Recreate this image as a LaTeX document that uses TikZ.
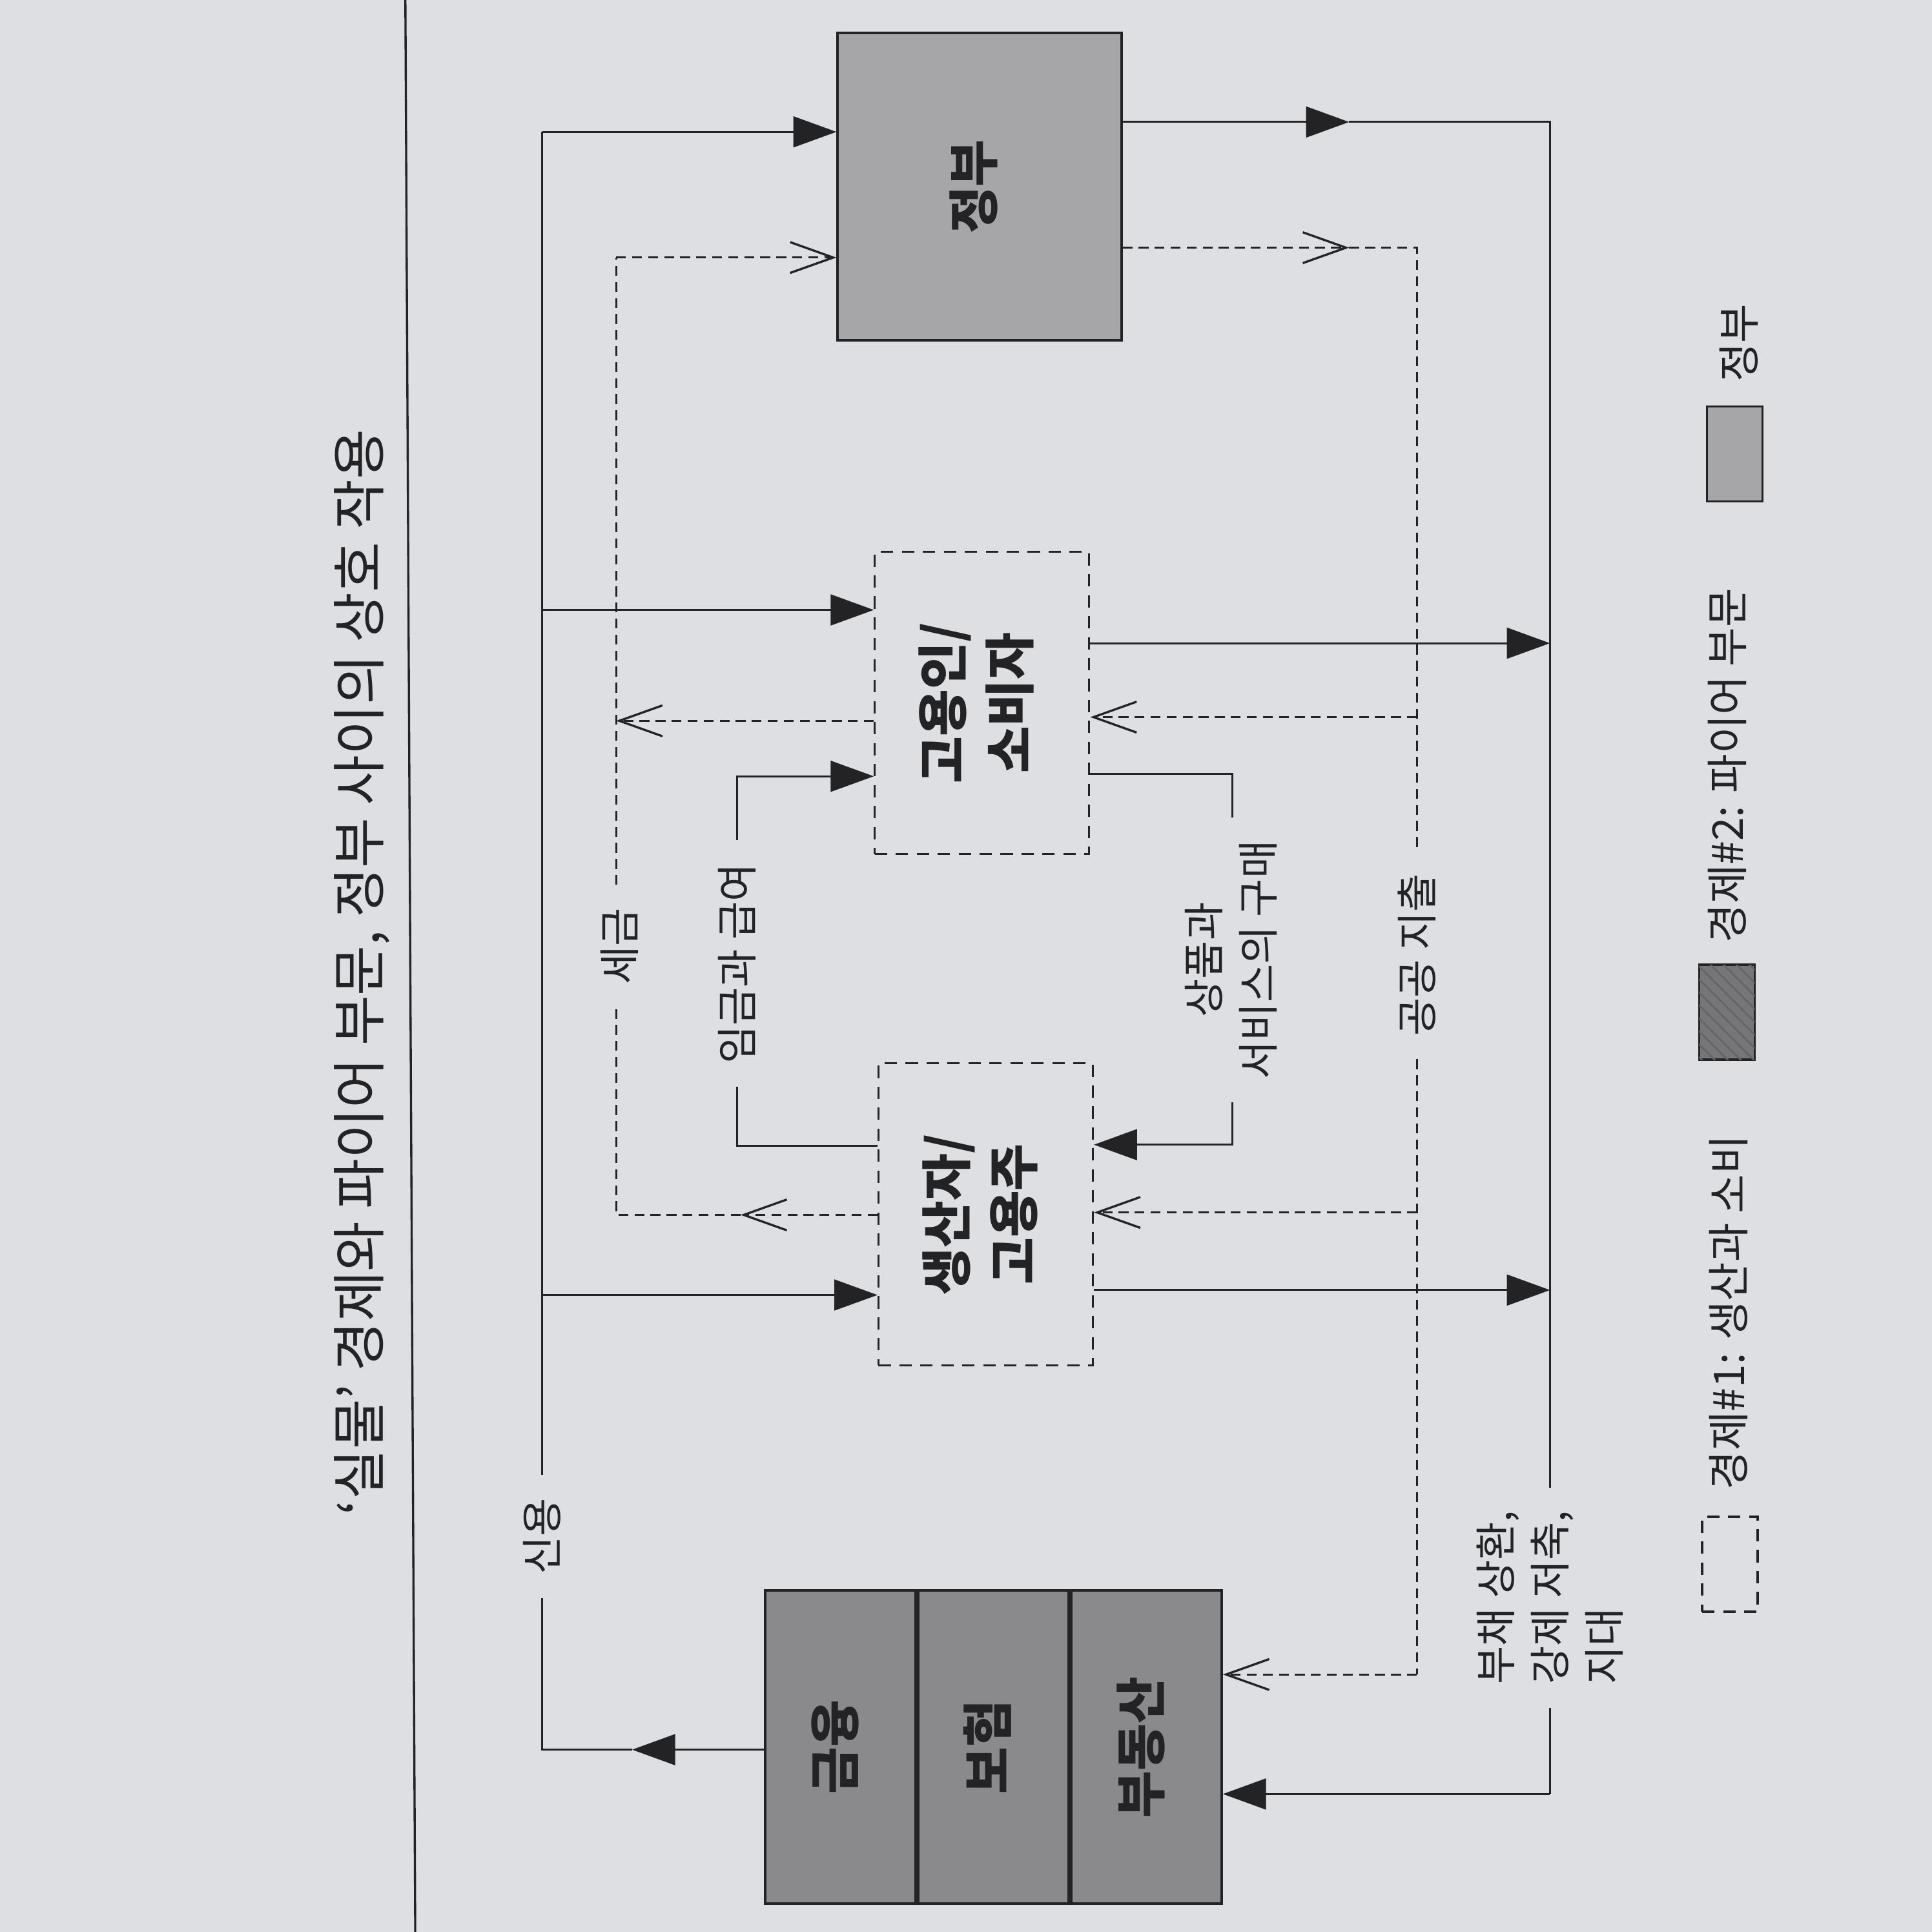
\documentclass[tikz,border=0pt]{standalone}
\usepackage{fontspec}
\setmainfont{Noto Sans CJK KR}
\usetikzlibrary{arrows.meta, positioning, patterns}

\definecolor{paper}{RGB}{222,223,226}
\definecolor{ink}{RGB}{35,35,38}
\definecolor{govgray}{RGB}{166,166,168}
\definecolor{firegray}{RGB}{138,138,140}
\definecolor{hatchgray}{RGB}{118,118,120}

% upright text turned a quarter turn, several lines centred
\newcommand{\vlab}[1]{\rotatebox{90}{\begin{tabular}{@{}c@{}}#1\end{tabular}}}

\begin{document}
\begin{tikzpicture}[
    x=0.01cm, y=-0.01cm,
    color=ink, line width=0.45pt,
    boxfont/.style={font=\bfseries\fontsize{11.8}{15.5}\selectfont},
    govbox/.style={draw, line width=0.6pt, fill=govgray, boxfont,
                   minimum width=2.30cm, minimum height=2.49cm, inner sep=0pt},
    firebox/.style={draw, line width=0.6pt, fill=firegray, boxfont,
                    minimum width=1.22cm, minimum height=2.54cm, inner sep=0pt},
    ecobox/.style={draw, dash pattern=on 1mm off 0.7mm, boxfont,
                   minimum width=1.74cm, minimum height=2.45cm, inner sep=0pt},
    swatch/.style={draw, line width=0.5pt, minimum width=0.45cm,
                   minimum height=0.77cm, inner sep=0pt},
    flow/.style={-{Triangle[length=3.5mm, width=2.5mm]}},
    publine/.style={dash pattern=on 0.8mm off 0.5mm},
    pubflow/.style={publine, -{Straight Barb[length=3.5mm, width=2.5mm, line width=0.5pt]}},
    flowlabel/.style={rotate=90, font=\fontsize{9.6}{12.5}\selectfont,
                      inner xsep=1.8mm, inner ysep=0pt},
    legendlabel/.style={rotate=90, anchor=west, inner sep=0pt,
                        font=\fontsize{9.8}{12}\selectfont},
]
\useasboundingbox (0,0) rectangle (1568,1568);
\fill[paper] (0,0) rectangle (1568,1568);

% page rule and title
\draw[line width=0.5pt] (329,0) -- (337,1568);
\node[rotate=90, font=\fontsize{12.6}{14}\selectfont] (title) at (294,789)
   {‘실물’ 경제와 파이어 부문, 정부 사이의 상호 작용};

% sectors
\node[govbox] (gov) at (795,151.5) {\vlab{정부}};
\node[ecobox] (emp) at (797,570.5) {\vlab{고용인/\\소비자}};
\node[ecobox] (prod) at (800,985.5) {\vlab{생산자/\\고용주}};
\node[firebox] (fin) at (682,1418) {\vlab{금융}};
\node[firebox, right=0pt of fin] (ins) {\vlab{보험}};
\node[firebox, right=0pt of ins] (est) {\vlab{부동산}};

% credit
\coordinate (credBot) at (440,1420);
\coordinate (credTip) at (513,1420);
\coordinate (credTop) at (440,107);
\coordinate (credEmp) at (440,495);
\coordinate (credProd) at (440,1051);
\node[flowlabel] (credit) at (440,1247) {신용};
\draw[flow] (fin.west |- credBot) -- (credTip);
\draw (credTip) -- (credBot) -- (credit.west);
\draw (credit.east) -- (credTop);
\draw[flow] (credTop) -- (credTop -| gov.west);
\draw[flow] (credEmp) -- (credEmp -| emp.west);
\draw[flow] (credProd) -- (credProd -| prod.west);

% taxes
\coordinate (taxTop) at (500,209);
\coordinate (taxEmp) at (500,585);
\coordinate (taxBot) at (500,986);
\coordinate (taxTip) at (601,986);
\node[flowlabel] (tax) at (503,768) {세금};
\draw[pubflow] (emp.west |- taxEmp) -- (taxEmp);
\draw[pubflow] (prod.west |- taxBot) -- (taxTip);
\draw[publine] (taxTip) -- (taxBot) -- (tax.west -| taxBot);
\draw[publine] (tax.east -| taxTop) -- (taxTop);
\draw[pubflow] (taxTop) -- (taxTop -| gov.west);

% wages
\coordinate (wageBot) at (598,930);
\coordinate (wageTop) at (598,630);
\node[flowlabel] (wage) at (598,782) {임금과 급여};
\draw (prod.west |- wageBot) -- (wageBot) -- (wage.west);
\draw[flow] (wage.east) -- (wageTop) -- (wageTop -| emp.west);

% purchases
\coordinate (buyTop) at (1000,628);
\coordinate (buyBot) at (1000,929);
\node[flowlabel, align=center] (buy) at (999,779) {상품과\\서비스의 구매};
\draw (emp.east |- buyTop) -- (buyTop) -- (buy.east -| buyTop);
\draw[flow] (buy.west -| buyBot) -- (buyBot) -- (buyBot -| prod.east);

% payments into FIRE
\coordinate (payTop) at (1258,99);
\coordinate (payTip) at (1095,99);
\coordinate (payEmp) at (1258,522);
\coordinate (payProd) at (1258,1047);
\coordinate (payBot) at (1258,1456);
\node[flowlabel, align=left, anchor=west] (repay) at (1258,1386)
   {부채 상환,\\강제 저축,\\지대};
\draw[flow] (gov.east |- payTop) -- (payTip);
\draw (payTip) -- (payTop) -- (repay.east);
\draw (repay.west) -- (payBot);
\draw[flow] (payBot) -- (payBot -| est.east);
\draw[flow] (emp.east |- payEmp) -- (payEmp);
\draw[flow] (prod.east |- payProd) -- (payProd);

% public spending
\coordinate (spendTop) at (1150,201);
\coordinate (spendTip) at (1095,201);
\coordinate (spendEmp) at (1150,582);
\coordinate (spendProd) at (1150,984);
\coordinate (spendBot) at (1150,1359);
\node[flowlabel] (spend) at (1150,775) {공공 지출};
\draw[pubflow] (gov.east |- spendTop) -- (spendTip);
\draw[publine] (spendTip) -- (spendTop) -- (spend.east);
\draw[publine] (spend.west) -- (spendBot);
\draw[pubflow] (spendEmp) -- (spendEmp -| emp.east);
\draw[pubflow] (spendProd) -- (spendProd -| prod.east);
\draw[pubflow] (spendBot) -- (spendBot -| est.east);

% key
\node[swatch, dash pattern=on 1mm off 0.7mm] (keyEco) at (1404,1269.5) {};
\node[legendlabel] (keyEcoText) at (1403,1210) {경제\#1: 생산과 소비};
\node[swatch, fill=hatchgray, postaction={pattern=north west lines, pattern color=ink!70}] (keyFire) at (1401.5,821.5) {};
\node[legendlabel] (keyFireText) at (1402,766) {경제\#2: 파이어 부문};
\node[swatch, fill=govgray] (keyGov) at (1408,368.5) {};
\node[legendlabel] (keyGovText) at (1411,311) {정부};
\end{tikzpicture}
\end{document}
